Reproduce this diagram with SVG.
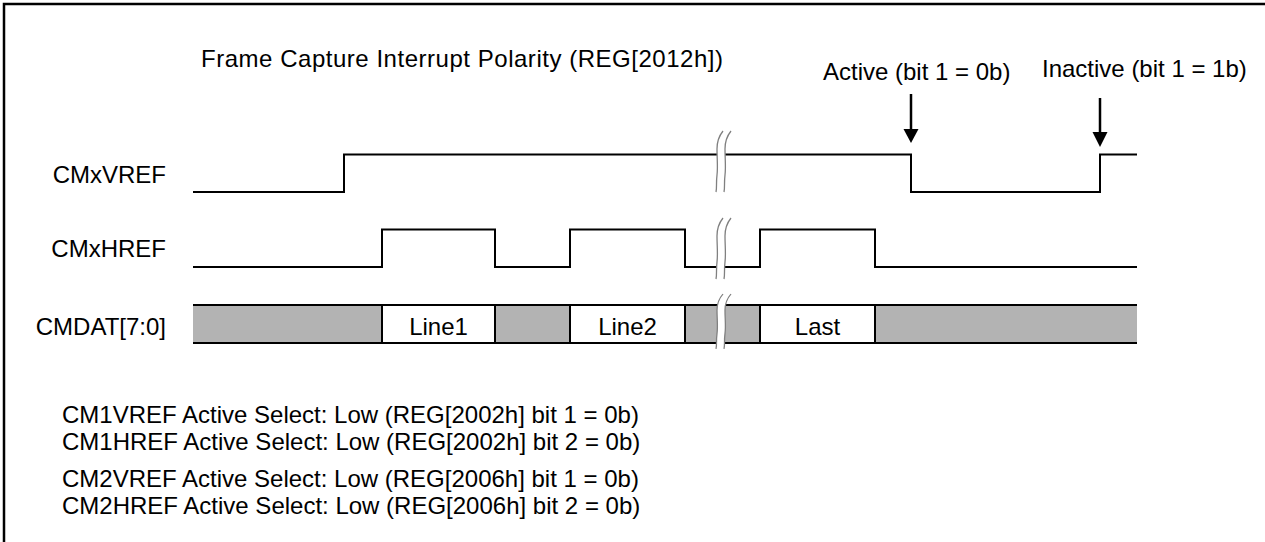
<svg xmlns="http://www.w3.org/2000/svg" width="1265" height="542" viewBox="0 0 1265 542">
<defs>
<style>
text{font-family:"Liberation Sans",Arial,sans-serif;font-size:24px;fill:#000}
.sig{fill:none;stroke:#000;stroke-width:2}
.gray{fill:#b3b3b3;stroke:none}
.brk{fill:none;stroke:#808080;stroke-width:1.3}
.arr{stroke:#000;stroke-width:2.5}
</style>
<g id="breaksym">
<path d="M7,0 C3,5 1,11 1,18 C1,28 2,36 1,44 C0,52 1,57 0,61 L8,61 C9,57 8,52 9,44 C10,36 9,28 9,18 C9,11 11,5 15,0 Z" fill="#fff" stroke="none"/>
<path class="brk" d="M7,0 C3,5 1,11 1,18 C1,28 2,36 1,44 C0,52 1,57 0,61"/>
<path class="brk" d="M15,0 C11,5 9,11 9,18 C9,28 10,36 9,44 C8,52 9,57 8,61"/>
</g>
</defs>
<rect x="4" y="4" width="1300" height="600" fill="#fff" stroke="#000" stroke-width="2.5"/>
<g id="title"><text x="201" y="67" textLength="522" lengthAdjust="spacing">Frame Capture Interrupt Polarity (REG[2012h])</text></g>
<g id="label-active"><text x="823" y="80">Active (bit 1 = 0b)</text></g>
<g id="label-inactive"><text x="1042" y="77">Inactive (bit 1 = 1b)</text></g>
<g id="sig-labels">
<text x="166" y="183" text-anchor="end">CMxVREF</text>
<text x="166" y="257" text-anchor="end">CMxHREF</text>
<text x="166" y="335" text-anchor="end">CMDAT[7:0]</text>
</g>
<g id="vref">
<path class="sig" d="M193,192 H344 V154.5 H911 V192 H1100 V154.5 H1137"/>
</g>
<g id="href">
<path class="sig" d="M193,267 H382 V229.5 H495 V267 H570 V229.5 H685 V267 H760 V229.5 H875 V267 H1137"/>
</g>
<g id="cmdat">
<rect class="gray" x="193" y="305" width="189" height="38"/>
<rect class="gray" x="495" y="305" width="75" height="38"/>
<rect class="gray" x="685" y="305" width="75" height="38"/>
<rect class="gray" x="875" y="305" width="262" height="38"/>
<path class="sig" d="M193,305 H1137 M193,343 H1137 M382,305 V343 M495,305 V344 M570,305 V343 M685,305 V343 M760,305 V343 M875,305 V343"/>
<text x="438.5" y="335" text-anchor="middle">Line1</text>
<text x="627.5" y="335" text-anchor="middle">Line2</text>
<text x="817.5" y="335" text-anchor="middle">Last</text>
</g>
<g id="breaks">
<use href="#breaksym" transform="translate(716,131)"/>
<use href="#breaksym" transform="translate(716,218)"/>
<use href="#breaksym" transform="translate(716,294) scale(1,0.9)"/>
</g>
<g id="connectors">
<line class="arr" x1="911" y1="94" x2="911" y2="131"/>
<polygon points="903.5,129 918.5,129 911,143" fill="#000"/>
<line class="arr" x1="1100" y1="98" x2="1100" y2="134"/>
<polygon points="1092.5,132 1107.5,132 1100,147" fill="#000"/>
</g>
<g id="notes">
<text x="62" y="423">CM1VREF Active Select: Low (REG[2002h] bit 1 = 0b)</text>
<text x="62" y="450">CM1HREF Active Select: Low (REG[2002h] bit 2 = 0b)</text>
<text x="62" y="487">CM2VREF Active Select: Low (REG[2006h] bit 1 = 0b)</text>
<text x="62" y="514">CM2HREF Active Select: Low (REG[2006h] bit 2 = 0b)</text>
</g>
</svg>
